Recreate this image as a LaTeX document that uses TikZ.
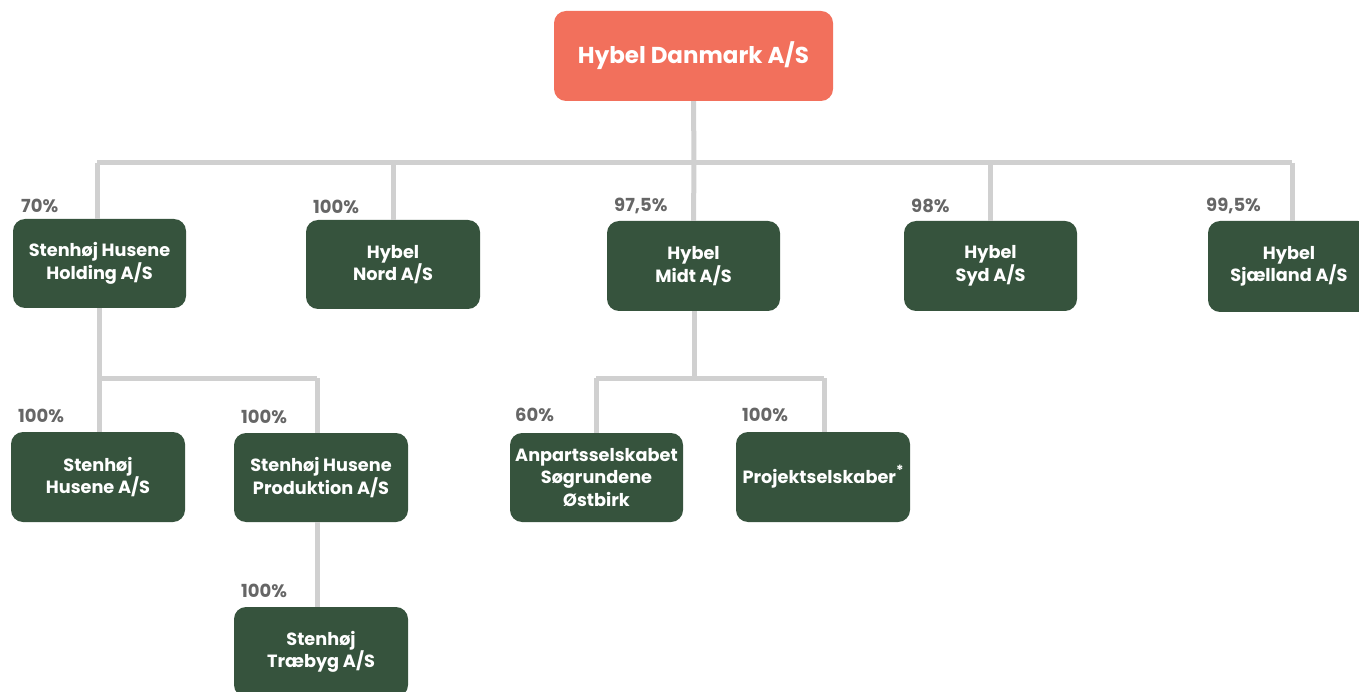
\documentclass[tikz,border=0pt]{standalone}
\usepackage{fontspec}
\setmainfont{Poppins}
\definecolor{salmon}{HTML}{F2705C}
\definecolor{dgreen}{HTML}{36533D}
\definecolor{lgray}{HTML}{D0D0D0}
\definecolor{pgray}{HTML}{666666}
\begin{document}
\begin{tikzpicture}[x=1pt,y=-1pt,
  box/.style={fill=dgreen,rounded corners=12pt,text=white,align=center,
    font=\fontsize{17.7}{22.5}\selectfont\bfseries,inner sep=0pt},
  topbox/.style={fill=salmon,rounded corners=12pt,text=white,
    font=\fontsize{23}{28}\selectfont\bfseries,inner sep=0pt,
    minimum width=279pt,minimum height=90pt},
  pct/.style={text=pgray,font=\fontsize{18}{20}\selectfont\bfseries,inner sep=0pt,anchor=west},
  conn/.style={draw=lgray,line width=5pt}]
\useasboundingbox (0,0) rectangle (1359,692);
\coordinate (bus) at (694,163);
\coordinate (busL) at (97,163);
\coordinate (busR) at (1292,163);
\coordinate (jh) at (99,378);
\coordinate (jhR) at (317,378);
\coordinate (jm) at (694,378);
\coordinate (jmL) at (596,378);
\coordinate (jmR) at (824,378);
\begin{scope}
\clip (0,0) rectangle (1359,692);
\node[topbox] (top) at (693.5,56) {Hybel Danmark A/S};
\node[box,minimum width=173pt,minimum height=89pt] (hold) at (99.5,263.5) {Stenhøj Husene\\Holding A/S};
\node[box,minimum width=174pt,minimum height=89pt] (nord) at (393,264.5) {Hybel\\Nord A/S};
\node[box,minimum width=173pt,minimum height=90pt] (midt) at (693.5,266) {Hybel\\Midt A/S};
\node[box,minimum width=173pt,minimum height=90pt] (syd) at (990.5,266) {Hybel\\Syd A/S};
\node[box,minimum width=162pt,minimum height=91pt] (sjael) at (1289,266.5) {Hybel\\Sjælland A/S};
\node[box,minimum width=174pt,minimum height=90pt] (husene) at (98,477) {Stenhøj\\Husene A/S};
\node[box,minimum width=174pt,minimum height=89pt] (prod) at (321,477.5) {Stenhøj Husene\\Produktion A/S};
\node[box,minimum width=174pt,minimum height=90pt] (trae) at (321,652) {Stenhøj\\Træbyg A/S};
\node[box,minimum width=173pt,minimum height=89pt] (anp) at (596.5,477.5) {Anpartsselskabet\\Søgrundene\\Østbirk};
\node[box,minimum width=174pt,minimum height=90pt] (proj) at (823,477) {Projektselskaber\raisebox{8pt}{\fontsize{14}{14}\selectfont *}};
\end{scope}
\draw[conn] (top.south) -- (bus);
\draw[conn] (busL) -- (busR);
\draw[conn] (busL) -- (busL |- hold.north);
\draw[conn] (bus -| nord.north) -- (nord.north);
\draw[conn] (bus) -- (midt.north);
\draw[conn] (bus -| syd.north) -- (syd.north);
\draw[conn] (busR) -- (busR |- sjael.north);
\draw[conn] (hold.south -| jh) -- (jh);
\draw[conn] (jh) -- (jhR);
\draw[conn] (jh) -- (jh |- husene.north);
\draw[conn] (jhR) -- (jhR |- prod.north);
\draw[conn] (prod.south -| jhR) -- (jhR |- trae.north);
\draw[conn] (midt.south -| jm) -- (jm);
\draw[conn] (jmL) -- (jmR);
\draw[conn] (jmL) -- (jmL |- anp.north);
\draw[conn] (jmR) -- (jmR |- proj.north);

\node[pct] (p1) at (21,206) {70\%};
\node[pct] (p2) at (313,207) {100\%};
\node[pct] (p3) at (614,206) {97,5\%};
\node[pct] (p4) at (911,206) {98\%};
\node[pct] (p5) at (1206,206) {99,5\%};
\node[pct] (p6) at (18,416) {100\%};
\node[pct] (p7) at (241,417) {100\%};
\node[pct] (p8) at (241,591) {100\%};
\node[pct] (p9) at (515,415) {60\%};
\node[pct] (p10) at (742,415) {100\%};
\end{tikzpicture}
\end{document}
